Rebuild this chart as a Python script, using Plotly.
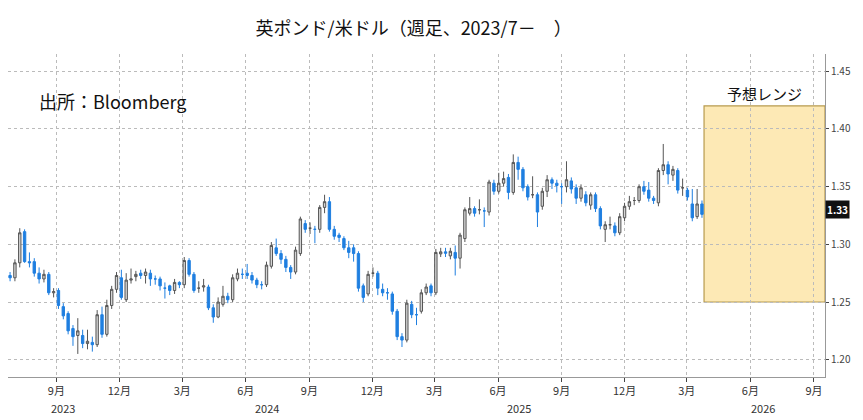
import pandas as pd
import plotly.graph_objects as go

start_week = "2023-06-26"
open_ = [1.273,1.271,1.284,1.311,1.285,1.285,1.275,1.27,1.274,1.258,1.26,1.246,1.24,1.227,1.221,1.221,1.214,1.215,1.213,1.239,
 1.222,1.247,1.261,1.271,1.252,1.269,1.272,1.275,1.273,1.275,1.27,1.27,1.262,1.264,1.26,1.267,1.265,1.286,1.274,1.262,
 1.263,1.263,1.245,1.237,1.248,1.255,1.252,1.27,1.274,1.275,1.273,1.269,1.265,1.265,1.281,1.297,1.292,1.287,1.28,1.276,
 1.292,1.318,1.314,1.313,1.313,1.332,1.337,1.313,1.308,1.305,1.297,1.297,1.292,1.264,1.257,1.275,1.275,1.261,1.258,1.257,
 1.242,1.22,1.217,1.248,1.239,1.242,1.258,1.264,1.258,1.2917,1.2935,1.29,1.293,1.288,1.305,1.327,1.331,1.33,1.329,1.328,
 1.353,1.346,1.353,1.358,1.345,1.371,1.365,1.35,1.343,1.343,1.333,1.346,1.356,1.353,1.35,1.35,1.355,1.349,1.34,1.343,
 1.334,1.343,1.331,1.313,1.317,1.316,1.31,1.323,1.333,1.338,1.338,1.35,1.347,1.34,1.336,1.364,1.369,1.36,1.364,1.349,
 1.347,1.335,1.324,1.335]
close = [1.271,1.284,1.31,1.285,1.284,1.275,1.27,1.274,1.258,1.259,1.247,1.238,1.225,1.22,1.225,1.214,1.216,1.213,1.239,1.222,
 1.247,1.261,1.273,1.254,1.269,1.27,1.274,1.273,1.276,1.27,1.27,1.264,1.262,1.26,1.267,1.265,1.286,1.274,1.26,1.262,
 1.264,1.245,1.237,1.25,1.255,1.252,1.271,1.275,1.274,1.273,1.269,1.265,1.265,1.282,1.299,1.292,1.287,1.28,1.276,1.295,
 1.322,1.313,1.314,1.313,1.332,1.337,1.313,1.307,1.306,1.297,1.293,1.292,1.262,1.254,1.274,1.275,1.262,1.258,1.258,1.242,
 1.22,1.217,1.249,1.239,1.239,1.258,1.263,1.258,1.293,1.2935,1.2923,1.294,1.288,1.308,1.33,1.331,1.327,1.33,1.329,1.354,
 1.346,1.353,1.357,1.345,1.371,1.365,1.349,1.341,1.343,1.328,1.346,1.356,1.353,1.351,1.35,1.356,1.348,1.34,1.349,1.336,
 1.343,1.331,1.316,1.317,1.317,1.31,1.324,1.333,1.337,1.338,1.35,1.346,1.34,1.338,1.364,1.369,1.361,1.365,1.347,1.349,
 1.341,1.323,1.335,1.326]
high = [1.276,1.287,1.314,1.313,1.293,1.288,1.28,1.278,1.276,1.262,1.262,1.249,1.242,1.23,1.236,1.226,1.226,1.22,1.243,1.246,
 1.252,1.264,1.276,1.278,1.275,1.279,1.277,1.278,1.279,1.278,1.273,1.272,1.267,1.265,1.27,1.268,1.289,1.288,1.276,1.268,
 1.27,1.265,1.248,1.254,1.264,1.258,1.274,1.279,1.279,1.283,1.276,1.271,1.268,1.285,1.302,1.305,1.295,1.29,1.282,1.298,
 1.324,1.321,1.319,1.316,1.334,1.343,1.341,1.316,1.31,1.307,1.303,1.3,1.294,1.266,1.277,1.28,1.277,1.266,1.262,1.259,
 1.244,1.223,1.252,1.251,1.245,1.261,1.266,1.266,1.296,1.297,1.297,1.297,1.299,1.31,1.332,1.341,1.333,1.339,1.332,1.356,
 1.356,1.362,1.363,1.361,1.378,1.376,1.367,1.352,1.359,1.345,1.349,1.36,1.358,1.356,1.353,1.372,1.358,1.352,1.352,1.346,
 1.345,1.345,1.333,1.32,1.324,1.319,1.327,1.336,1.342,1.341,1.352,1.355,1.354,1.342,1.366,1.387,1.372,1.368,1.366,1.357,
 1.349,1.348,1.348,1.338]
low = [1.268,1.268,1.28,1.284,1.28,1.272,1.266,1.267,1.256,1.254,1.244,1.235,1.222,1.212,1.205,1.21,1.209,1.207,1.211,1.219,
 1.22,1.244,1.258,1.252,1.25,1.266,1.268,1.27,1.266,1.264,1.265,1.26,1.253,1.256,1.257,1.262,1.262,1.272,1.258,1.258,
 1.259,1.243,1.232,1.236,1.246,1.249,1.25,1.268,1.27,1.27,1.266,1.262,1.261,1.263,1.279,1.29,1.283,1.276,1.27,1.274,
 1.29,1.31,1.309,1.301,1.31,1.327,1.311,1.304,1.302,1.295,1.288,1.285,1.259,1.25,1.255,1.272,1.256,1.255,1.252,1.239,
 1.217,1.211,1.215,1.236,1.23,1.24,1.256,1.255,1.256,1.289,1.289,1.287,1.273,1.279,1.302,1.325,1.324,1.326,1.315,1.325,
 1.343,1.344,1.35,1.339,1.343,1.356,1.346,1.338,1.34,1.315,1.33,1.341,1.348,1.345,1.335,1.345,1.344,1.335,1.337,1.333,
 1.33,1.328,1.313,1.302,1.313,1.307,1.308,1.32,1.33,1.334,1.336,1.343,1.337,1.335,1.333,1.36,1.352,1.355,1.344,1.342,
 1.338,1.32,1.322,1.323]
range_low, range_high = 1.25, 1.42
range_end = "2026-09-17"
last_label = "1.33"
month_ticks = ["2023-09-01","2023-12-01","2024-03-01","2024-06-01","2024-09-01","2024-12-01","2025-03-01",
               "2025-06-01","2025-09-01","2025-12-01","2026-03-01","2026-06-01","2026-09-01"]
month_text = ["9月","12月","3月","6月","9月","12月","3月","6月","9月","12月","3月","6月","9月"]
year_pos = ["2023-09-10","2024-07-01","2025-07-01","2026-06-20"]
year_text = ["2023","2024","2025","2026"]

dates = pd.date_range(start_week, periods=len(close), freq="W-MON")

fig = go.Figure(go.Candlestick(
    x=dates, open=open_, high=high, low=low, close=close,
    increasing=dict(fillcolor="#d4d4d4", line=dict(color="#555555", width=1)),
    decreasing=dict(fillcolor="#1f7fe0", line=dict(color="#1f7fe0", width=1)),
    whiskerwidth=0, showlegend=False, hoverinfo="skip"))

box_x0 = dates[-1] + pd.Timedelta(days=3)
fig.add_shape(type="rect", x0=box_x0, x1=range_end, y0=range_low, y1=range_high,
              fillcolor="#fde9b5", line=dict(color="#b89b4e", width=1.2), layer="below")
fig.add_annotation(x=pd.Timestamp(box_x0) + (pd.Timestamp(range_end) - pd.Timestamp(box_x0)) / 2,
                   y=range_high, text="予想レンジ", showarrow=False, yanchor="bottom",
                   font=dict(size=15, color="#111"))
fig.add_annotation(xref="paper", yref="y", x=1.0, y=float(last_label), text=f"<b>{last_label}</b>",
                   showarrow=False, xanchor="left", bgcolor="#111", font=dict(color="white", size=10),
                   borderpad=1)
fig.add_annotation(xref="paper", yref="paper", x=0.035, y=0.9, text="出所：Bloomberg", showarrow=False,
                   xanchor="left", font=dict(size=18, color="#111"))
for p, t in zip(year_pos, year_text):
    fig.add_annotation(x=p, yref="paper", y=-0.065, text=t, showarrow=False, yanchor="top",
                       font=dict(size=11, color="#333"))

fig.update_layout(
    width=863, height=420, margin=dict(l=0, r=46, t=46, b=51, autoexpand=False),
    paper_bgcolor="white", plot_bgcolor="white",
    font=dict(family="Noto Sans CJK JP, Noto Sans, sans-serif"),
    title=dict(text="英ポンド/米ドル（週足、2023/7－　）", x=0.47, xanchor="center", y=0.965,
               font=dict(size=18, color="#111")),
    xaxis=dict(range=["2023-06-23", range_end], rangeslider=dict(visible=False), automargin=False,
               tickvals=month_ticks, ticktext=month_text, showgrid=True,
               gridcolor="#bbbbbb", griddash="dot", ticks="outside", ticklen=4,
               tickfont=dict(size=11, color="#333"), showline=True, linecolor="#999"),
    yaxis=dict(side="right", range=[1.185, 1.465], tickvals=[1.20,1.25,1.30,1.35,1.40,1.45],
               tickformat=".2f", showgrid=True, gridcolor="#bbbbbb", griddash="dot", automargin=False,
               ticks="outside", ticklen=3, tickfont=dict(size=10, color="#444"),
               showline=True, linecolor="#999", zeroline=False),
)
fig.write_html("out.html")
